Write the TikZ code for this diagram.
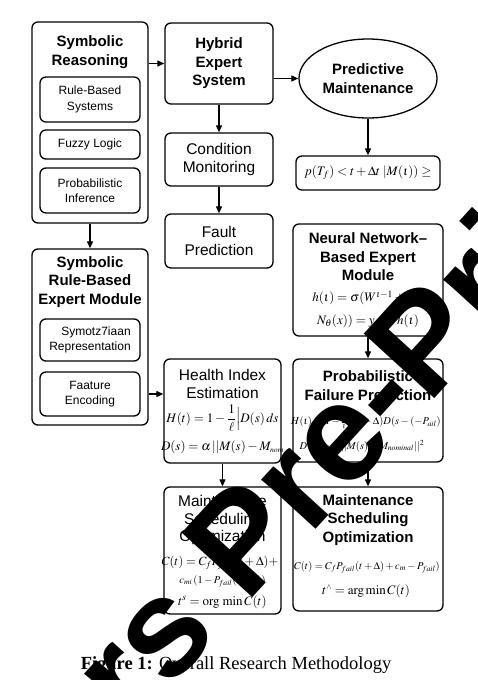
\documentclass[tikz,border=0pt]{standalone}
\usepackage{amsmath}
\usepackage{mathptmx}
\usepackage[no-math]{fontspec}
\setmainfont{Liberation Sans}
\newfontfamily\capfont{Liberation Serif}
\newfontfamily\wmfont{Liberation Sans}
\usetikzlibrary{arrows.meta,shapes.geometric}
\begin{document}
\begin{tikzpicture}[x=1pt,y=-1pt,
  box/.style={draw, line width=1.3pt, rounded corners=6pt, inner sep=0pt},
  titleB/.style={font=\fontsize{15}{18.5}\selectfont\bfseries, align=center, inner sep=0pt},
  small/.style={font=\fontsize{12}{15.5}\selectfont, align=center},
  large/.style={font=\fontsize{15.5}{17.5}\selectfont, align=center},
  fml/.style={font=\fontsize{13}{15}\selectfont, inner sep=0pt},
  fmlm/.style={font=\fontsize{12.5}{15}\selectfont, inner sep=0pt},
  fmls/.style={font=\fontsize{10.5}{13}\selectfont, inner sep=0pt},
  arr/.style={line width=1.2pt, -{Triangle[length=7pt,width=6pt]}}]
\useasboundingbox (0,0) rectangle (477,680);
\fill[white] (0,0) rectangle (477,680);

% Symbolic Reasoning
\node[box, minimum width=116pt, minimum height=201pt] (SR) at (90,122.5) {};
\node[titleB] (SRt) at (90,52) {Symbolic\\Reasoning};
\node[box, small, minimum width=100pt, minimum height=45pt] (RBS) at (90,99.5) {Rule-Based\\Systems};
\node[box, small, minimum width=100pt, minimum height=29pt] (FL) at (90,144.5) {Fuzzy Logic};
\node[box, small, minimum width=100pt, minimum height=45pt] (PI) at (90,190.5) {Probabilistic\\Inference};

% Hybrid
\node[box, titleB, minimum width=108pt, minimum height=81pt] (HY) at (219,63.5) {Hybrid\\Expert\\System};
\node[draw, line width=1.3pt, ellipse, minimum width=138pt, minimum height=79pt, inner sep=0pt, titleB] (PM) at (368,78.5) {Predictive\\Maintenance};
\node[box, minimum width=144pt, minimum height=34pt, font=\fontsize{13}{15}\selectfont] (PF) at (368,173) {$p(T_f) < t + \Delta t\;|M(\iota)) \geq$};
\node[box, large, minimum width=108pt, minimum height=53pt] (CM) at (219,159.5) {Condition\\Monitoring};
\node[box, large, minimum width=108pt, minimum height=54pt] (FP) at (219,241) {Fault\\Prediction};

% Symbolic Rule-Based Expert Module
\node[box, minimum width=116pt, minimum height=176pt] (SRB) at (90,337) {};
\node[titleB] (SRBt) at (90,282) {Symbolic\\Rule-Based\\Expert Module};
\node[box, small, minimum width=100pt, minimum height=42pt] (SYR) at (90,340) {\hspace*{12pt}Symotz7iaan\\Representation};
\node[box, small, minimum width=100pt, minimum height=44pt] (FE) at (90,394) {Faature\\Encoding};

% Health Index
\node[box, minimum width=117pt, minimum height=104pt] (HI) at (222.5,411) {};
\node[large, inner sep=0pt] (HIt) at (222.5,384) {Health Index\\Estimation};
\node[fml] (HIf1) at (222.5,418) {$H(t) = 1 - \dfrac{1}{\ell}\Big|D(s)\,ds$};
\node[fml] (HIf2) at (222.5,447) {$D(s) = \alpha\,||M(s) - M_{\scriptscriptstyle nom}$};

% Neural Network
\node[box, minimum width=150pt, minimum height=112pt] (NN) at (368,280) {};
\node[titleB] (NNt) at (368,257) {Neural Network–\\Based Expert\\Module};
\node[fml] (NNf1) at (368,298) {$h(\iota) = \sigma(W^{\iota-1} + b\iota)$};
\node[fml] (NNf2) at (368,321) {$N_\theta(x)) = y_\kappa = h(\iota)$};

% Probabilistic Failure Prediction
\node[box, minimum width=150pt, minimum height=103pt] (PFP) at (368,410.5) {};
\node[titleB] (PFPt) at (368,385.5) {Probabilistic\\Failure Prediction};
\node[fmls] (PFPf1) at (366,422) {$H(\iota) = 1-\frac{1}{\iota}\!\int\!(1-\Delta)D(s-(-P_{ail})$};
\node[fmls] (PFPf2) at (362,446) {$D(s) = \alpha\,||M(s) - M_{nominal}||^2$};

% Maintenance Scheduling Optimization (left)
\node[box, minimum width=117pt, minimum height=127pt] (MSL) at (222.5,550.5) {};
\node[large, inner sep=0pt] (MSLt) at (222.5,520) {Maintenance\\Scheduling\\Optimization};
\node[fmlm] (MSLf1) at (220,563) {$C(t) = C_f P_{fail}(t+\Delta) +$};
\node[fmls] (MSLf2) at (222.5,581) {$c_{mi}\,(1-P_{fail}(t+\Delta))$};
\node[fml] (MSLf3) at (222.5,602) {$t^s = \mathrm{org}\,\min C(t)$};

% Maintenance Scheduling Optimization (right)
\node[box, minimum width=150pt, minimum height=124pt] (MSR) at (368,549) {};
\node[titleB] (MSRt) at (368,520) {Maintenance\\Scheduling\\Optimization};
\node[fmls] (MSRf1) at (367,567) {$C(t) = C_f P_{fail}(t+\Delta) + c_m - P_{fail})$};
\node[fml] (MSRf2) at (366,591) {$t^{\scriptscriptstyle\wedge} = \arg\min C(t)$};

% Arrows
\draw[arr] (SR.east |- HY.west) -- (HY.west);
\draw[arr] (HY.east |- PM.west) -- (PM.west);
\draw[arr] (HY.south) -- (CM.north);
\draw[arr] (CM.south) -- (FP.north);
\draw[arr] (PM.south) -- (PF.north);
\draw[arr] (SR.south) -- (SRB.north);
\draw[arr] (SRB.east |- FE.east) -- (HI.west |- FE.east);
\draw[arr] (HI.south) -- (MSL.north);
\draw[arr] (NN.south) -- (PFP.north);
\draw[arr] (PFP.south) -- (MSR.north);

% Caption
\node[anchor=base, inner sep=0pt, font=\capfont\fontsize{18.5}{21}\selectfont] (cap) at (236,669) {\textbf{Figure 1:} Overall Research Methodology};

% Watermark
\begin{scope}
\clip (0,0) rectangle (477,680);
\node[rotate=47.6, anchor=base west, inner sep=0pt, font=\wmfont\bfseries\fontsize{139}{139}\selectfont] (wm) at (132,730.3) {rs Pre-Print};
\end{scope}
\end{tikzpicture}
\end{document}
